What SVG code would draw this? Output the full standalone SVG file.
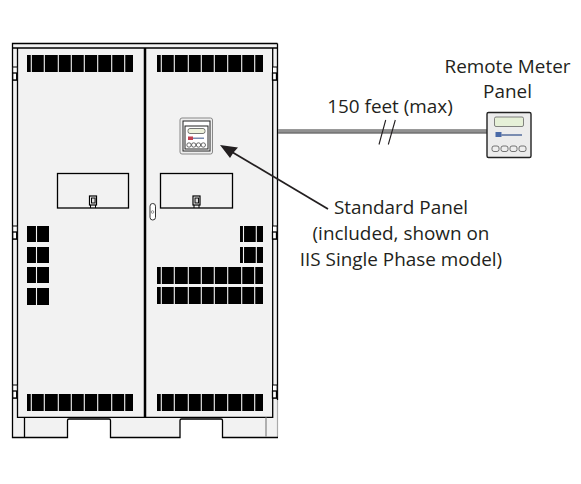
<svg xmlns="http://www.w3.org/2000/svg" width="581" height="484" viewBox="0 0 581 484">
<style>
.l{fill:none;stroke:#000;stroke-width:1.3}
.b{fill:#000}
.s{fill:#f2f2f2}
.sep{stroke:#f2f2f2;stroke-width:1.1}
text{font-family:"Open Sans","Noto Sans",sans-serif;font-size:18.9px;fill:#231f20;text-anchor:middle}
</style>
<defs>
<g id="sepT"><path class="sep" d="M31.3 0v17M44.3 0v17M58.3 0v17M71.3 0v17M84.3 0v17M97.7 0v17M111.7 0v17M124.7 0v17"/></g>
<g id="vent"><rect class="b" x="27" y="0" width="106" height="17"/><use href="#sepT"/></g>
<g id="hinge"><rect x="-2.3" y="0" width="4.6" height="13" fill="#fff" stroke="#000" stroke-width="1"/><rect x="-2.3" y="6" width="4" height="7" fill="#fff" stroke="#000" stroke-width="1.3"/></g>
<g id="latch"><rect x="0" y="0" width="7" height="9" fill="#fff" stroke="#000" stroke-width="1.2"/><rect x="2" y="2" width="3.6" height="5" fill="#ddd" stroke="#000" stroke-width="1"/><path d="M1 9v3M6 9v3" stroke="#000" stroke-width="1"/></g>
</defs>
<rect width="581" height="484" fill="#fff"/>
<g id="cabinet">
<path d="M12.5 43.5H277.5V437.5H222.5V420.5Q222.5 419 221 419H181.500Q180 419 180 420.500V437.500H110.500V420.500Q110.500 419 109 419H69Q67.500 419 67.500 420.500V437.500H12.500Z" fill="#f2f2f2"/>
<path d="M277.500 400V437" stroke="#aaa" stroke-width="1.200"/>
<path d="M277.500 43.500H12.500V437.500H67.500V420.500Q67.500 419 69 419H109Q110.500 419 110.500 420.500V437.500H180V420.500Q180 419 181.500 419H221Q222.500 419 222.500 420.500V437.500H278M277.500 43.500V400" fill="none" stroke="#000" stroke-width="1.300"/>
<path class="l" d="M12.500 48H277.500M17.500 48V417.300H272.700V48M24.500 417.300V437.500"/>
<path d="M145 48V417.300" stroke="#000" stroke-width="2.500"/>
<path d="M266 417.500V437" stroke="#999" stroke-width="1.500"/>
<use href="#vent" y="55"/>
<use href="#vent" x="130" y="55"/>
<use href="#vent" y="394"/>
<use href="#vent" x="130" y="394"/>
<use href="#vent" x="130" y="267"/>
<use href="#vent" x="130" y="287"/>
<g id="vents-left"><rect class="b" x="27" y="226" width="22" height="16"/><rect class="b" x="27" y="247" width="22" height="16"/><rect class="b" x="27" y="267" width="22" height="16"/><rect class="b" x="27" y="288" width="22" height="17"/><path class="sep" d="M36.500 226v79"/></g>
<g id="vents-right"><rect class="b" x="240" y="226" width="23" height="16"/><rect class="b" x="240" y="247" width="23" height="16"/><path class="sep" d="M243.500 226v37M256.300 226v37"/></g>
<use href="#hinge" x="15" y="67"/>
<use href="#hinge" x="15" y="226"/>
<use href="#hinge" x="15" y="385"/>
<use href="#hinge" x="274.800" y="67"/>
<use href="#hinge" x="274.800" y="226"/>
<use href="#hinge" x="274.800" y="385"/>
<rect class="l" x="57.500" y="173.500" width="71" height="34.500"/>
<rect class="l" x="160.500" y="173.500" width="72" height="34.500"/>
<use href="#latch" x="89.500" y="196"/>
<use href="#latch" x="193" y="196"/>
<rect x="150" y="203.500" width="5.500" height="16.500" rx="2.700" fill="#fff" stroke="#333" stroke-width="1"/>
<circle cx="152.500" cy="212" r="1.300" fill="none" stroke="#777" stroke-width=".8"/>
</g>
<g id="connectors">
<path d="M278 131.500H487" stroke="#777" stroke-width="4.500"/>
<path d="M278 131H487" stroke="#aaa" stroke-width="1"/>
<path d="M379 144.500L385.700 120M388.300 144.500L395.300 120" stroke="#231f20" stroke-width="1.100"/>
<path d="M328 209L232 152" stroke="#231f20" stroke-width="1.800"/>
<path d="M220 145L238 147.500L233.500 152.500L230 158Z" fill="#231f20"/>
</g>
<g id="standard-panel">
<rect x="180" y="118" width="32.500" height="36" rx="2" fill="#eee" stroke="#888" stroke-width="1"/>
<rect x="183" y="121" width="27" height="30" fill="#fff" stroke="#222" stroke-width="1"/>
<rect x="185" y="126" width="23" height="23" fill="#fff" stroke="#222" stroke-width="1"/>
<rect x="188" y="128.500" width="17" height="5" rx="2" fill="#eef2dc" stroke="#555" stroke-width=".8"/>
<rect x="188" y="136.500" width="5" height="3.500" fill="#c04050"/><rect x="193" y="137.500" width="11" height="1.500" fill="#7a8cb0"/>
<circle cx="189" cy="145" r="2.200" fill="#fff" stroke="#444" stroke-width=".8"/><circle cx="193.700" cy="145" r="2.200" fill="#fff" stroke="#444" stroke-width=".8"/><circle cx="198.500" cy="145" r="2.200" fill="#fff" stroke="#444" stroke-width=".8"/><circle cx="203.300" cy="145" r="2.200" fill="#fff" stroke="#444" stroke-width=".8"/>
</g>
<g id="remote-panel">
<rect x="487" y="112.500" width="44" height="45" rx="1.500" fill="#ececec" stroke="#222" stroke-width="1.400"/>
<rect x="494.500" y="117" width="29" height="9.500" rx="1.500" fill="#e6f0d8" stroke="#666" stroke-width=".8"/>
<rect x="495.500" y="132" width="6" height="5" fill="#4a6aa8"/><rect x="501" y="134" width="21" height="2" fill="#7a8cb0"/>
<rect x="492" y="146" width="7" height="5.500" rx="2" fill="#eee" stroke="#555" stroke-width=".8"/><rect x="501" y="146" width="7" height="5.500" rx="2" fill="#eee" stroke="#555" stroke-width=".8"/><rect x="510" y="146" width="7" height="5.500" rx="2" fill="#eee" stroke="#555" stroke-width=".8"/><rect x="519" y="146" width="7" height="5.500" rx="2" fill="#eee" stroke="#555" stroke-width=".8"/>
</g>
<g id="labels">
<text x="507.500" y="72.500">Remote Meter</text>
<text x="507.500" y="98">Panel</text>
<text x="390" y="112.500">150 feet (max)</text>
<text x="401" y="214">Standard Panel</text>
<text x="401" y="240">(included, shown on</text>
<text x="401" y="266">IIS Single Phase model)</text>
</g>
</svg>
